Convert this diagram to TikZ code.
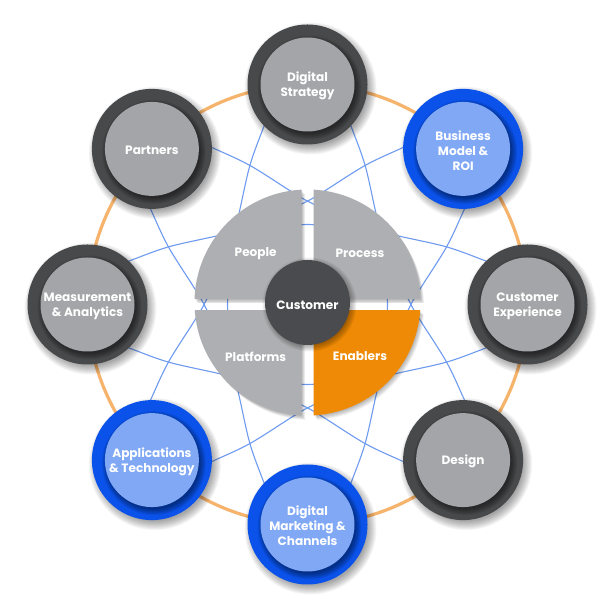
\documentclass[tikz,border=0pt]{standalone}
\usepackage{fontspec}
\setmainfont{Poppins Bold}
\usetikzlibrary{calc}
\definecolor{ringdark}{HTML}{48494B}
\definecolor{graydisc}{HTML}{A4A5A8}
\definecolor{piegray}{HTML}{AEAFB2}
\definecolor{custdark}{HTML}{4A4B4E}
\definecolor{enorange}{HTML}{EE8A05}
\definecolor{ringblue}{HTML}{0A52EA}
\definecolor{lightblue}{HTML}{80A8F5}
\definecolor{orbit}{HTML}{F6B36C}
\definecolor{webline}{HTML}{6E9BF0}
\tikzset{
  lbl/.style={text=white, font=\fontsize{12.1}{15}\selectfont, align=center, inner sep=0pt},
  disc/.style={circle, minimum size=94pt, inner sep=0pt, lbl},
  webstroke/.style={draw=webline, line width=1.1pt},
}
\newcommand\orbnode[6]{%
  \foreach \k in {0,...,9}{\fill[black,opacity=0.04] ({#2+3},{#3-4}) circle ({66-\k});}
  \fill[#4] (#2,#3) circle (60);
  \begin{scope}
    \clip (#2,#3) circle (60);
    \foreach \k in {0,...,6}{\fill[black,opacity=0.07] ({#2+2},{#3-3}) circle ({52-\k});}
  \end{scope}
  \node[disc, fill=#5] (#1) at (#2,#3) {};
  \node[lbl, yshift=-1.5pt] at (#1) {#6};
}
\newcommand\quadfill[3]{%
  \begin{scope}
    \clip ({307.5+#1*6},{307.5+#2*6}) rectangle ({307.5+#1*130},{307.5+#2*130});
    \fill[#3] (307.5,309.5) circle (113);
  \end{scope}}
\begin{document}
\begin{tikzpicture}[x=1pt,y=1pt]
\useasboundingbox (0,0) rectangle (612,612);
\fill[white] (0,0) rectangle (612,612);
\coordinate (O) at (307.5,307.5);
% orbit
\draw[orbit, line width=3.2pt] (O) circle (220);
% web of arcs
\foreach \a in {22.5,67.5,...,337.5}{
  \begin{scope}[shift={(307.5,307.5)}, rotate=\a-90]
    \draw[webstroke] plot[smooth, tension=0.55] coordinates {(-195,110) (-149,108.5) (-107,106.5) (-60,98.5) (-39,95.5) (0,94) (39,95.5) (60,98.5) (107,106.5) (149,108.5) (195,110)};
  \end{scope}}
\draw[webstroke] (O) circle (80);
% pie shadows
\foreach \s in {1,...,5}{
  \begin{scope}[shift={({0.7*\s},{-0.9*\s})}]
    \quadfill{-1}{1}{black,opacity=0.06}
    \quadfill{1}{1}{black,opacity=0.06}
    \quadfill{-1}{-1}{black,opacity=0.06}
    \quadfill{1}{-1}{black,opacity=0.06}
  \end{scope}}
% pie
\quadfill{-1}{1}{piegray}
\quadfill{1}{1}{piegray}
\quadfill{-1}{-1}{piegray}
\quadfill{1}{-1}{enorange}
\node[lbl] (people) at (255.7,358) {People};
\node[lbl] (process) at (360,358.8) {Process};
\node[lbl] (platforms) at (255.7,255.5) {Platforms};
\node[lbl] (enablers) at (360,255.5) {Enablers};
% customer
\foreach \k in {0,...,7}{\fill[black,opacity=0.05] (309.5,307.5) circle ({47-\k});}
\node[circle, fill=custdark, minimum size=85pt, inner sep=0pt] (customer) at (307.5,309.5) {};
\node[lbl] at (307.5,307) {Customer};
% outer nodes
\orbnode{strategy}{307.5}{527.5}{ringdark}{graydisc}{Digital\\Strategy}
\orbnode{business}{463.1}{463.1}{ringblue}{lightblue}{Business\\Model \&\\ROI}
\orbnode{experience}{527.5}{307.5}{ringdark}{graydisc}{Customer\\Experience}
\orbnode{design}{463.1}{151.9}{ringdark}{graydisc}{Design}
\orbnode{marketing}{307.5}{87.5}{ringblue}{lightblue}{Digital\\Marketing \&\\Channels}
\orbnode{apps}{151.9}{151.9}{ringblue}{lightblue}{Applications\\\& Technology}
\orbnode{measure}{87.5}{307.5}{ringdark}{graydisc}{Measurement\\\& Analytics}
\orbnode{partners}{151.9}{463.1}{ringdark}{graydisc}{Partners}
\end{tikzpicture}
\end{document}
